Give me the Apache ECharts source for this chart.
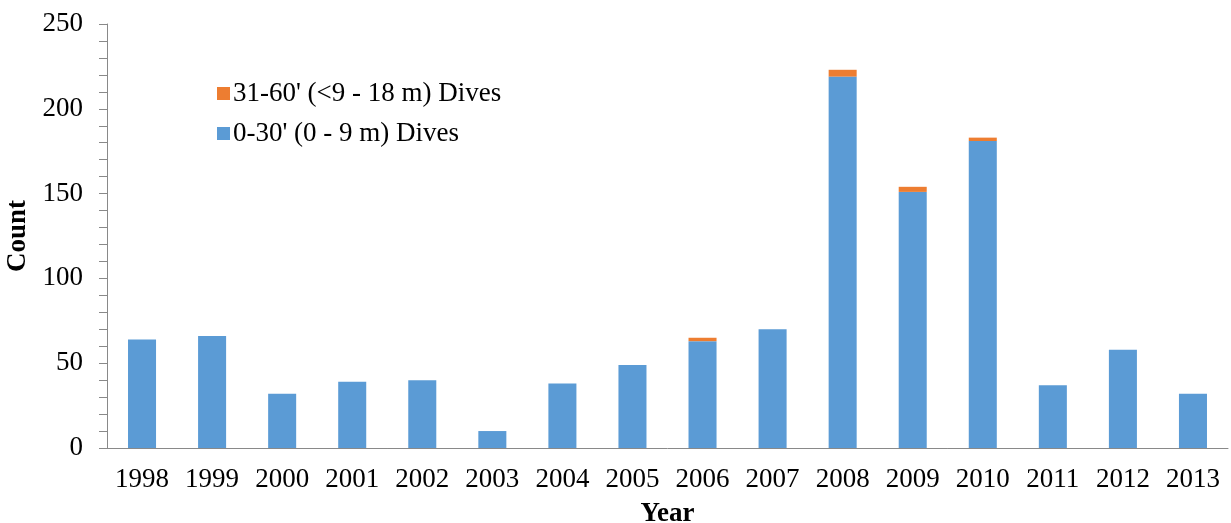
<!DOCTYPE html>
<html><head><meta charset="utf-8">
<script src="https://cdn.jsdelivr.net/npm/echarts@6/dist/echarts.min.js"></script>
<style>html,body{margin:0;padding:0;background:#fff}#c{width:1231px;height:523px}</style>
</head><body><div id="c"></div>
<script>
const years = ['1998','1999','2000','2001','2002','2003','2004','2005','2006','2007','2008','2009','2010','2011','2012','2013'];
const shallow = [64,66,32,39,40,10,38,49,63,70,219,151,181,37,58,32];
const deeper = [0,0,0,0,0,0,0,0,2,0,4,3,2,0,0,0];
const yTicks = [0,50,100,150,200,250];
const nameShallow = "0-30' (0 - 9 m) Dives";
const nameDeep = "31-60' (<9 - 18 m) Dives";
const font = '"Liberation Serif", "Times New Roman", serif';
const chart = echarts.init(document.getElementById('c'));
chart.setOption({
  animation:false,
  grid:{left:107,right:3,top:24,bottom:75,containLabel:false,outerBoundsMode:'none'},
  legend:{
    orient:'vertical', left:212, top:75, itemGap:13,
    itemWidth:13, itemHeight:13, icon:'rect',
    data:[nameDeep,nameShallow],
    textStyle:{fontFamily:font,fontSize:27,color:'#000',padding:[0,0,0,-2]}
  },
  xAxis:{
    type:'category', data:years,
    name:'Year', nameLocation:'middle', nameGap:53,
    nameTextStyle:{fontFamily:font,fontSize:27,fontWeight:'bold',color:'#000'},
    axisLine:{lineStyle:{color:'#898989',width:1}},
    axisTick:{show:false},
    axisLabel:{interval:0,hideOverlap:false,fontFamily:font,fontSize:27,color:'#000',margin:18}
  },
  yAxis:{
    type:'value', min:yTicks[0], max:yTicks[yTicks.length-1], interval:50,
    name:'Count', nameLocation:'middle', nameGap:70, nameRotate:90,
    nameTextStyle:{fontFamily:font,fontSize:27,fontWeight:'bold',color:'#000'},
    axisLine:{show:true,lineStyle:{color:'#898989',width:1}},
    axisTick:{show:true,length:8,inside:false,lineStyle:{color:'#898989'}},
    minorTick:{show:true,splitNumber:5,length:8,lineStyle:{color:'#898989'}},
    splitLine:{show:false},
    axisLabel:{fontFamily:font,fontSize:27,color:'#000',margin:24}
  },
  series:[
    {name:nameShallow,type:'bar',stack:'s',data:shallow,barWidth:'40%',
     itemStyle:{color:'#5B9BD5'}},
    {name:nameDeep,type:'bar',stack:'s',data:deeper,barWidth:'40%',
     itemStyle:{color:'#ED7D31'}}
  ]
});
</script></body></html>
